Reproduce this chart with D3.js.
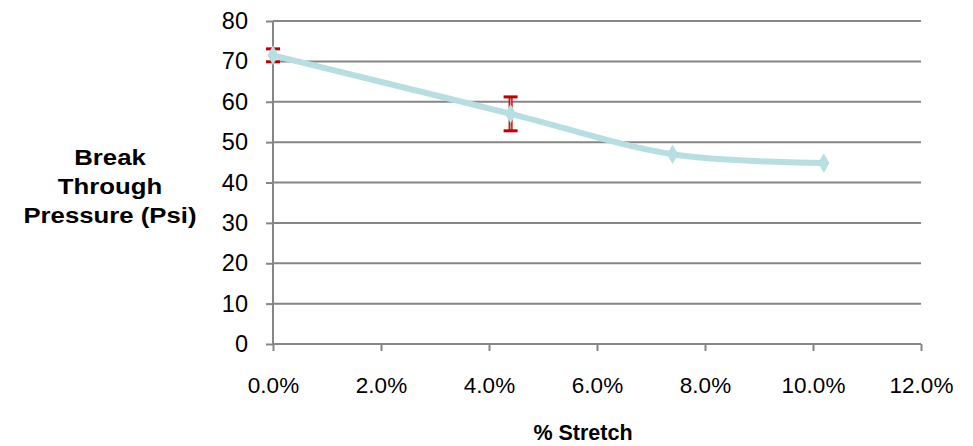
<!DOCTYPE html>
<html><head><meta charset="utf-8">
<script src="https://cdn.jsdelivr.net/npm/d3@7"></script>
<style>body{margin:0;background:#fff}svg{display:block}text{font-family:"Liberation Sans",Arial,sans-serif}</style>
</head><body><svg id="c" width="973" height="446"></svg>
<script>
const stretch = [0.000, 0.044, 0.074, 0.102];
const pressure = [71.5, 57.0, 47.0, 44.8];
const errorPlus = [1.6, 4.2, 0, 0];
const errorMinus = [1.6, 4.2, 0, 0];
const xTicks = [0, 0.02, 0.04, 0.06, 0.08, 0.10, 0.12];
const yTicks = [0, 10, 20, 30, 40, 50, 60, 70, 80];

const svg = d3.select("#c");
const x = d3.scaleLinear().domain([0, 0.12]).range([273, 921]);
const y = d3.scaleLinear().domain([0, 80]).range([344, 21]);
const grid = "#868686";
const FF = "Liberation Sans, Arial, sans-serif";

// gridlines
svg.append("g").selectAll("line").data(yTicks.filter(d => d > 0)).join("line")
  .attr("x1", x(0)).attr("x2", x(0.12)).attr("y1", d => y(d)).attr("y2", d => y(d))
  .attr("stroke", grid).attr("stroke-width", 2);

// y axis
const ya = svg.append("g").attr("transform", `translate(${x(0)},0)`)
  .call(d3.axisLeft(y).tickValues(yTicks).tickSize(7).tickPadding(18).tickFormat(d3.format("d")));
ya.select(".domain").attr("stroke", grid).attr("stroke-width", 2).attr("d", `M0,${y(80)}V${y(0)}`);
ya.selectAll(".tick line").attr("stroke", grid).attr("stroke-width", 2);
ya.selectAll(".tick text").attr("font-size", 23.5).attr("fill", "#000").attr("font-family", FF);

// x axis
const xa = svg.append("g").attr("transform", `translate(0,${y(0)})`)
  .call(d3.axisBottom(x).tickValues(xTicks).tickSize(7).tickPadding(26).tickFormat(d3.format(".1%")));
xa.select(".domain").attr("stroke", grid).attr("stroke-width", 2).attr("d", `M${x(0)},0H${x(0.12)}`);
xa.selectAll(".tick line").attr("stroke", grid).attr("stroke-width", 2);
xa.selectAll(".tick text").attr("font-size", 22.5).attr("fill", "#000").attr("font-family", FF);

const pts = stretch.map((s, i) => ({s, p: pressure[i], ep: errorPlus[i], em: errorMinus[i]}));

// error bars
const eb = svg.append("g").selectAll("g").data(pts.filter(d => d.ep > 0)).join("g");
eb.append("line").attr("x1", d => x(d.s)).attr("x2", d => x(d.s))
  .attr("y1", d => y(d.p + d.ep)).attr("y2", d => y(d.p - d.em))
  .attr("stroke", "#c00000").attr("stroke-width", 4);
eb.append("line").attr("x1", d => x(d.s)).attr("x2", d => x(d.s))
  .attr("y1", d => y(d.p + d.ep)).attr("y2", d => y(d.p - d.em))
  .attr("stroke", "#e38a8a").attr("stroke-width", 1.5);
[ "ep", "em" ].forEach(k => {
  eb.append("line").attr("x1", d => x(d.s) - 7).attr("x2", d => x(d.s) + 7)
    .attr("y1", d => y(k === "ep" ? d.p + d.ep : d.p - d.em)).attr("y2", d => y(k === "ep" ? d.p + d.ep : d.p - d.em))
    .attr("stroke", "#c00000").attr("stroke-width", 3);
});

// line
const line = d3.line().x(d => x(d.s)).y(d => y(d.p)).curve(d3.curveCatmullRom.alpha(0.5));
svg.append("path").datum(pts).attr("d", line).attr("fill", "none")
  .attr("stroke", "#b7dfe2").attr("stroke-width", 6).attr("stroke-linejoin", "round");

// markers
svg.append("g").selectAll("path").data(pts).join("path")
  .attr("transform", d => `translate(${x(d.s)},${y(d.p)})`)
  .attr("d", d3.symbol(d3.symbolDiamond, 110)())
  .attr("fill", "#b7dfe2");

// titles
svg.append("text").attr("x", 583).attr("y", 440).attr("text-anchor", "middle")
  .attr("font-size", 21.5).attr("font-weight", "bold").text("% Stretch");
const yl = svg.append("g").attr("transform", "translate(110,0) scale(1.12,1)")
  .append("text").attr("text-anchor", "middle").attr("font-size", 23).attr("font-weight", "bold");
["Break", "Through", "Pressure (Psi)"].forEach((t, i) =>
  yl.append("tspan").attr("x", 0).attr("y", 165.5 + i * 29).text(t));
</script></body></html>
